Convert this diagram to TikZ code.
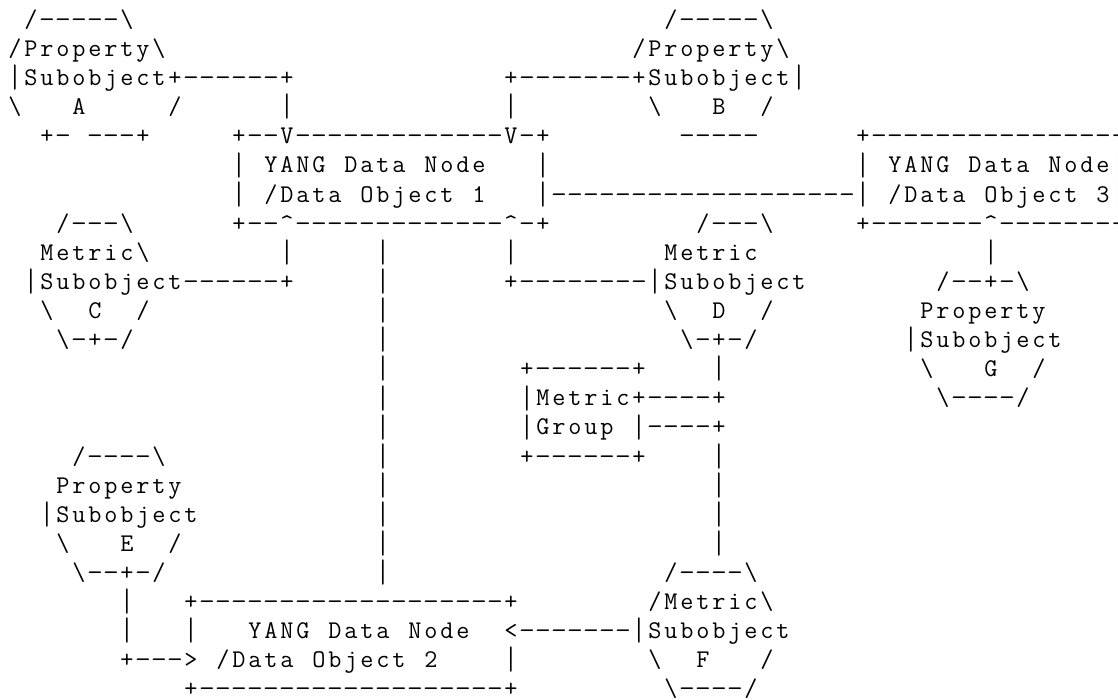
\documentclass[tikz,border=0pt]{standalone}
\usepackage{fontspec}
\usepackage{graphicx}
\newcommand\bsl{\textbackslash}
\newcommand\crt{\textasciicircum}
\newcommand\asciichar[1]{%
  \ifx#1.\hbox to16pt{}%
  \else\ifx#1-\hbox to16pt{\hss\scalebox{1.2}[1]{-}\hss}%
  \else\ifx#1|\hbox to16pt{\hss\raisebox{-2.2pt}{\scalebox{1}[1.28]{|}}\hss}%
  \else\hbox to16pt{\hss#1\hss}\fi\fi\fi}
\def\asciilineA#1{\ifx#1\relax\else\asciichar{#1}\expandafter\asciilineA\fi}
\newcommand\asciiline[1]{\asciilineA#1\relax}
\newcommand\seg[4]{\node[txt] (#1) at ({7+16*#2},{20+29.1*(#3-1)+7.5}) {\asciiline{#4}};}
\begin{document}
\begin{tikzpicture}[x=1pt,y=-1pt,
  txt/.style={anchor=base west,inner sep=0pt,outer sep=0pt,
    font=\ttfamily\fontsize{25.5pt}{29pt}\selectfont}]
\path[use as bounding box] (0,0) rectangle (1118,700);
\clip (0,0) rectangle (1118,700);
% row 1
\seg{r1a}{1}{1}{/-----\bsl}
\seg{r1b}{41}{1}{/-----\bsl}
% row 2
\seg{r2a}{0}{2}{/Property\bsl}
\seg{r2b}{39}{2}{/Property\bsl}
% row 3
\seg{r3a}{0}{3}{|Subobject+------+}
\seg{r3b}{31}{3}{+-------+Subobject|}
% row 4
\seg{r4a}{0}{4}{\bsl...A...../}
\seg{r4b}{17}{4}{|}
\seg{r4c}{31}{4}{|}
\seg{r4d}{40}{4}{\bsl...B../}
% row 5
\seg{r5a}{2}{5}{+-.---+}
\seg{r5b}{14}{5}{+--V-------------V-+}
\seg{r5c}{42}{5}{-----}
\seg{r5d}{53}{5}{+---------------+}
% row 6
\seg{r6a}{14}{6}{|.YANG.Data.Node...|}
\seg{r6b}{53}{6}{|.YANG.Data.Node|}
% row 7
\seg{r7a}{14}{7}{|./Data.Object.1...|-------------------|./Data.Object.3|}
% row 8
\seg{r8a}{3}{8}{/---\bsl}
\seg{r8b}{14}{8}{+--\crt-------------\crt-+}
\seg{r8c}{43}{8}{/---\bsl}
\seg{r8d}{53}{8}{+-------\crt-------+}
% row 9
\seg{r9a}{2}{9}{Metric\bsl}
\seg{r9b}{17}{9}{|}
\seg{r9c}{23}{9}{|}
\seg{r9d}{31}{9}{|}
\seg{r9e}{41}{9}{Metric}
\seg{r9f}{61}{9}{|}
% row 10
\seg{r10a}{1}{10}{|Subobject------+}
\seg{r10b}{23}{10}{|}
\seg{r10c}{31}{10}{+--------|Subobject}
\seg{r10d}{58}{10}{/--+-\bsl}
% row 11
\seg{r11a}{2}{11}{\bsl..C../}
\seg{r11b}{23}{11}{|}
\seg{r11c}{41}{11}{\bsl..D../}
\seg{r11d}{57}{11}{Property}
% row 12
\seg{r12a}{3}{12}{\bsl-+-/}
\seg{r12b}{23}{12}{|}
\seg{r12c}{42}{12}{\bsl-+-/}
\seg{r12d}{56}{12}{|Subobject}
% row 13
\seg{r13a}{23}{13}{|}
\seg{r13b}{32}{13}{+------+}
\seg{r13c}{44}{13}{|}
\seg{r13d}{57}{13}{\bsl...G../}
% row 14
\seg{r14a}{23}{14}{|}
\seg{r14b}{32}{14}{|Metric+----+}
\seg{r14c}{58}{14}{\bsl----/}
% row 15
\seg{r15a}{23}{15}{|}
\seg{r15b}{32}{15}{|Group.|----+}
% row 16
\seg{r16a}{4}{16}{/----\bsl}
\seg{r16b}{23}{16}{|}
\seg{r16c}{32}{16}{+------+}
\seg{r16d}{44}{16}{|}
% row 17
\seg{r17a}{3}{17}{Property}
\seg{r17b}{23}{17}{|}
\seg{r17c}{44}{17}{|}
% row 18
\seg{r18a}{2}{18}{|Subobject}
\seg{r18b}{23}{18}{|}
\seg{r18c}{44}{18}{|}
% row 19
\seg{r19a}{3}{19}{\bsl...E../}
\seg{r19b}{23}{19}{|}
\seg{r19c}{44}{19}{|}
% row 20
\seg{r20a}{4}{20}{\bsl--+-/}
\seg{r20b}{23}{20}{|}
\seg{r20c}{41}{20}{/----\bsl}
% row 21
\seg{r21a}{7}{21}{|}
\seg{r21b}{11}{21}{+-------------------+}
\seg{r21c}{40}{21}{/Metric\bsl}
% row 22
\seg{r22a}{7}{22}{|}
\seg{r22b}{11}{22}{|}
\seg{r22c}{15}{22}{YANG.Data.Node}
\seg{r22d}{31}{22}{<-------|Subobject}
% row 23
\seg{r23a}{7}{23}{+--->}
\seg{r23b}{13}{23}{/Data.Object.2}
\seg{r23c}{31}{23}{|}
\seg{r23d}{40}{23}{\bsl..F.../}
% row 24
\seg{r24a}{11}{24}{+-------------------+}
\seg{r24b}{41}{24}{\bsl----/}
\end{tikzpicture}
\end{document}
